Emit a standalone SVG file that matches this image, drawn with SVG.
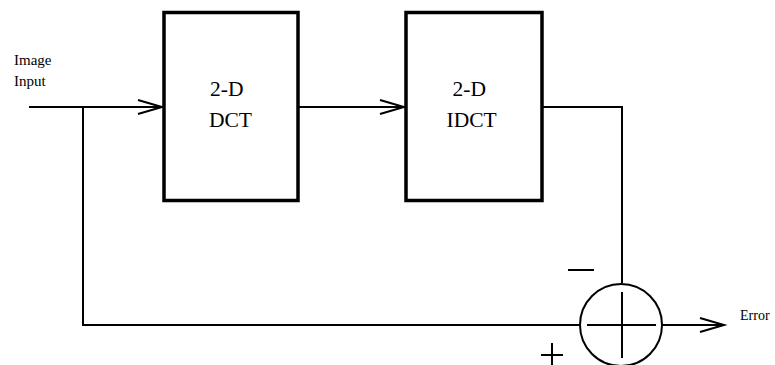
<svg xmlns="http://www.w3.org/2000/svg" width="775" height="365" viewBox="0 0 775 365">
<style>
.box{fill:#fff;stroke:#000;stroke-width:3.5}
.ln{fill:none;stroke:#000;stroke-width:2}
.ah{fill:none;stroke:#000;stroke-width:2;stroke-linejoin:miter}
.t{font-family:"Liberation Serif","Times New Roman",serif;fill:#000}
.big{font-size:21.5px}
.sm{font-size:15px}
</style>
<rect width="775" height="365" fill="#fff"/>
<g id="connectors">
<line class="ln" x1="29" y1="107" x2="163" y2="107"/>
<polyline class="ah" points="138,100 162,107 138,114"/>
<polyline class="ln" points="83,107 83,325 580,325"/>
<line class="ln" x1="298" y1="107" x2="405" y2="107"/>
<polyline class="ah" points="380,100 404,107 380,114"/>
<polyline class="ln" points="542,107 622,107 622,283"/>
<line class="ln" x1="662" y1="325" x2="724" y2="325"/>
<polyline class="ah" points="700,318 724,325 700,332"/>
</g>
<g id="dct">
<rect class="box" x="164" y="12.5" width="134" height="188"/>
<text class="t big" x="210" y="95.5">2-D</text>
<text class="t big" x="209" y="127">DCT</text>
</g>
<g id="idct">
<rect class="box" x="406" y="12.5" width="136" height="188"/>
<text class="t big" x="452.5" y="95.5">2-D</text>
<text class="t big" x="446.5" y="127">IDCT</text>
</g>
<g id="sum">
<circle cx="621" cy="325" r="41" fill="#fff" stroke="#000" stroke-width="2"/>
<line class="ln" x1="587" y1="325" x2="656" y2="325"/>
<line class="ln" x1="622" y1="292" x2="622" y2="358"/>
</g>
<g id="labels">
<text class="t sm" x="14" y="65">Image</text>
<text class="t sm" x="14" y="85.5">Input</text>
<text class="t" x="740" y="320" font-size="14">Error</text>
<line class="ln" x1="568" y1="270" x2="594" y2="270"/>
<line class="ln" x1="541" y1="355" x2="563" y2="355"/>
<line class="ln" x1="552" y1="343" x2="552" y2="366"/>
</g>
</svg>
